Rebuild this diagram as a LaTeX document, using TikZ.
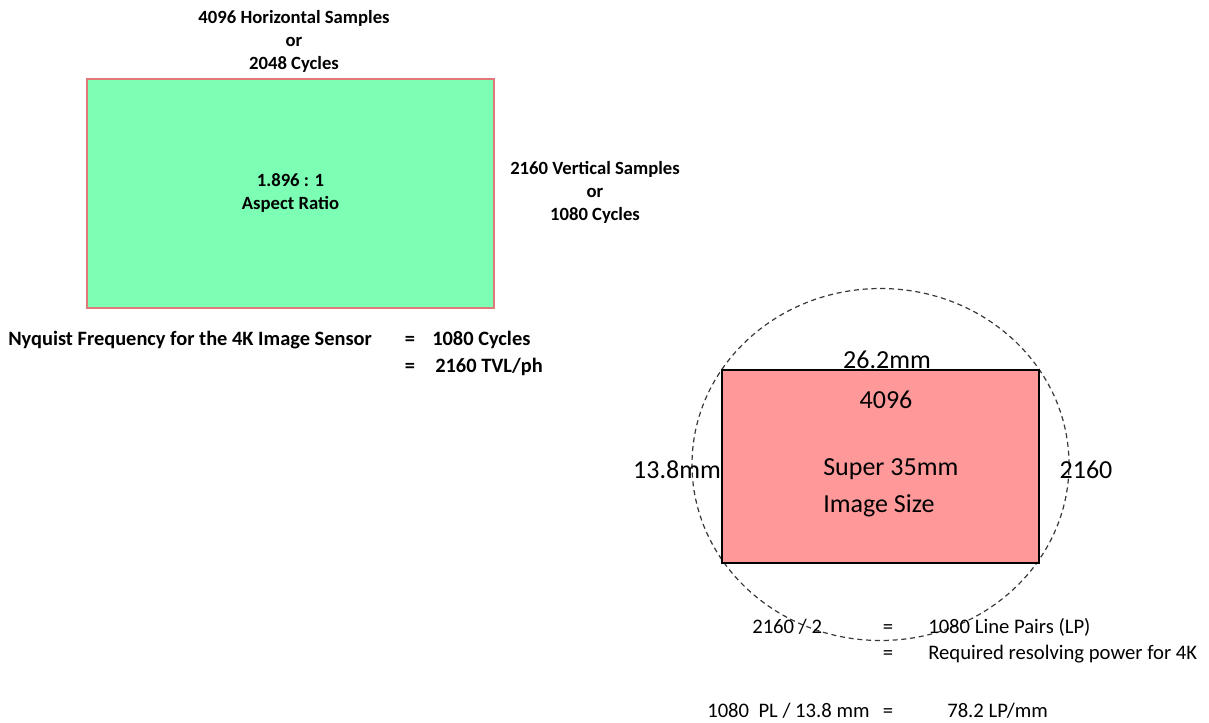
\documentclass[tikz,border=0pt]{standalone}
\usepackage{fontspec}
\usetikzlibrary{shapes.geometric}
\setmainfont{Carlito}
\definecolor{boxgreen}{HTML}{7CFFB4}
\definecolor{boxedge}{HTML}{E07A7A}
\definecolor{boxpink}{HTML}{FF9999}
\definecolor{circgray}{HTML}{383838}
\begin{document}
\begin{tikzpicture}[x=0.75pt,y=-0.75pt,
  lbl/.style={inner sep=0pt,font=\bfseries\fontsize{14}{17.25}\selectfont,align=center},
  nyq/.style={inner sep=0pt,font=\bfseries\fontsize{15.3}{18}\selectfont},
  big/.style={inner sep=0pt,font=\fontsize{19.5}{27.5}\selectfont},
  eqn/.style={inner sep=0pt,font=\fontsize{15.5}{18}\selectfont}]
\useasboundingbox (0,0) rectangle (1209,722);
% left: 4K sensor
\node[draw=boxedge,fill=boxgreen,line width=0.8pt,minimum width=407*0.75pt,minimum height=229*0.75pt,inner sep=0pt] (sensor) at (290.5,193.5) {};
\node[lbl] (ratio) at (sensor.center) {1.896 : 1\\Aspect Ratio};
\node[lbl] (hlab) at (294,41) {4096 Horizontal Samples\\or\\2048 Cycles};
\node[lbl] (vlab) at (595,192) {2160 Vertical Samples\\or\\1080 Cycles};
\node[nyq,anchor=base west] (nyq) at (8,345) {Nyquist Frequency for the 4K Image Sensor};
\node[nyq,anchor=base] (eq1) at (410,345) {=};
\node[nyq,anchor=base west] (cyc) at (432,345) {1080 Cycles};
\node[nyq,anchor=base] (eq2) at (410,372) {=};
\node[nyq,anchor=base west] (tvl) at (435,372) {2160 TVL/ph};
% right: Super 35mm
\node[draw=circgray,dash pattern=on 3.8pt off 2.8pt,line width=0.9pt,ellipse,minimum width=377*0.75pt,minimum height=352*0.75pt,inner sep=0pt] (circ) at (880.5,464.5) {};
\node[draw=black,fill=boxpink,line width=0.9pt,minimum width=317*0.75pt,minimum height=193*0.75pt,inner sep=0pt] (s35) at (880.5,466.5) {};
\node[big] (w) at (887,360) {26.2mm};
\node[big] (n4096) at (886,400) {4096};
\node[big,align=left,anchor=west] (name) at (823,488) {Super 35mm\\Image Size};
\node[big] (h) at (677,470) {13.8mm};
\node[big] (n2160) at (1086,470) {2160};
\node[eqn,anchor=base west] (div) at (752,633) {2160 / 2};
\node[eqn,anchor=base] (eq3) at (888,633) {=};
\node[eqn,anchor=base west] (lp) at (928,633) {1080 Line Pairs (LP)};
\node[eqn,anchor=base] (eq4) at (888,659) {=};
\node[eqn,anchor=base west] (req) at (928,659) {Required resolving power for 4K};
\node[eqn,anchor=base west] (pl) at (707,717) {1080\ \ PL / 13.8 mm};
\node[eqn,anchor=base] (eq5) at (888,717) {=};
\node[eqn,anchor=base west] (res) at (947,717) {78.2 LP/mm};
\end{tikzpicture}
\end{document}
